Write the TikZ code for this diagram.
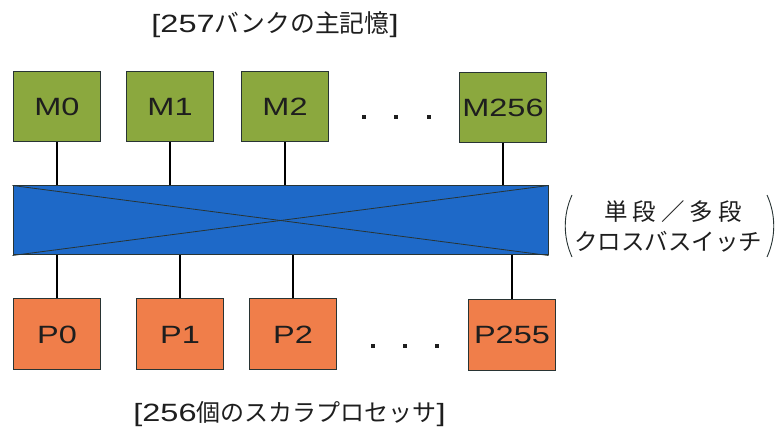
\documentclass[tikz,border=0pt]{standalone}
\usepackage{fontspec}
\setmainfont{Liberation Sans}[FakeStretch=1.3]
\newfontfamily\jp{Noto Sans CJK JP}
\definecolor{mgreen}{RGB}{139,168,62}
\definecolor{porange}{RGB}{240,126,74}
\definecolor{sblue}{RGB}{30,105,200}
\definecolor{edge}{RGB}{40,52,52}
\definecolor{ink}{RGB}{30,30,30}
\begin{document}
\begin{tikzpicture}[x=1pt,y=-1pt,
  mem/.style={draw=edge, line width=1pt, fill=mgreen, minimum width=87pt, minimum height=70pt, inner sep=0pt, text=ink, font=\fontsize{25}{30}\selectfont},
  proc/.style={mem, fill=porange, minimum height=71pt},
  link/.style={draw=black, line width=1.6pt},
  dotbox/.style={fill=ink, minimum size=4.5pt, inner sep=0pt},
  lbl/.style={text=ink, inner sep=0pt, font=\fontsize{25}{30}\selectfont},
  jlbl/.style={text=ink, inner sep=0pt, font=\jp\fontsize{23.5}{28}\selectfont},
  brk/.style={draw=edge, line width=0.9pt}
]
\useasboundingbox (0,0) rectangle (779,435);
% title labels
\node[lbl] (top) at (275,25) {[257{\jp\fontsize{24.8}{30}\selectfont バンクの主記憶}]};
\node[lbl] (bot) at (289.5,414) {[256{\jp\fontsize{24}{30}\selectfont 個のスカラプロセッサ}]};
% memories
\node[mem] (m0) at (57,106.5) {M0};
\node[mem] (m1) at (170,106.5) {M1};
\node[mem] (m2) at (285,106.5) {M2};
\node[mem] (m3) at (503,107.5) {M256};
% switch
\node[draw=edge, fill=sblue, line width=1pt, minimum width=535pt, minimum height=69pt, inner sep=0pt] (sw) at (280.5,220.5) {};
\draw[edge, line width=0.8pt] (sw.north west) -- (sw.south east);
\draw[edge, line width=0.8pt] (sw.south west) -- (sw.north east);
% processors
\node[proc] (p0) at (57,334.5) {P0};
\node[proc] (p1) at (180,334.5) {P1};
\node[proc] (p2) at (293,334.5) {P2};
\node[proc] (p3) at (512,335) {P255};
% links
\foreach \n in {m0,m1,m2,m3} \draw[link] (\n.south) -- (\n.south |- sw.north);
\foreach \n in {p0,p1,p2,p3} \draw[link] (\n.north) -- (\n.north |- sw.south);
% ellipsis dots
\node[dotbox] (d1) at (364,117) {};
\node[dotbox] (d2) at (396,117) {};
\node[dotbox] (d3) at (429,117) {};
\node[dotbox] (d4) at (373,346) {};
\node[dotbox] (d5) at (405,346) {};
\node[dotbox] (d6) at (437,346) {};
% right label
\node[jlbl] (r1) at (673,212) {単\hspace{5pt}段\hspace{5pt}／\hspace{5pt}多\hspace{5pt}段};
\node[jlbl] (r2) at (668,242) {クロスバスイッチ};
\draw[brk] (572,195) .. controls (563,215) and (563,237) .. (572,257);
\draw[brk] (767,195) .. controls (776,215) and (776,237) .. (767,257);
\end{tikzpicture}
\end{document}
